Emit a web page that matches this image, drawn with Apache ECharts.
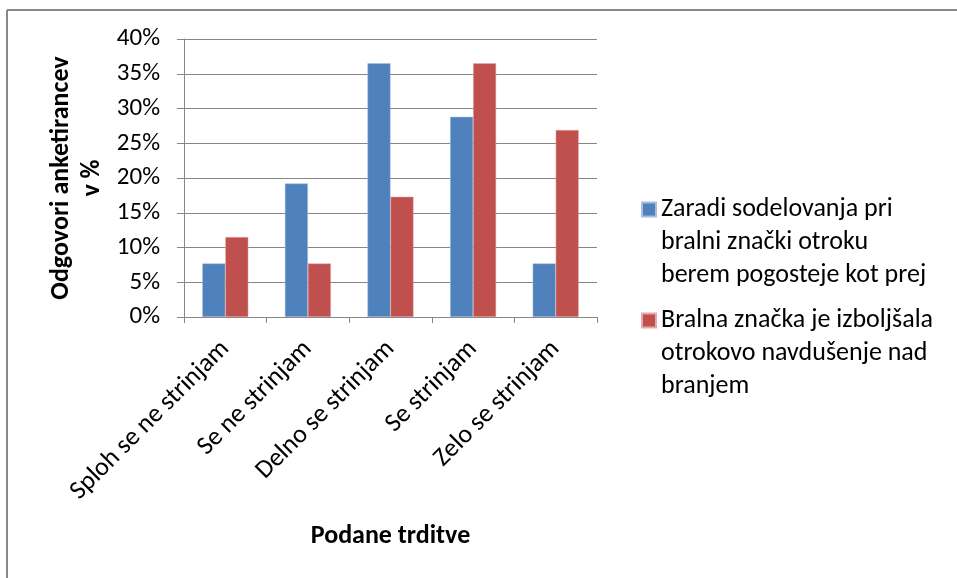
<!DOCTYPE html>
<html>
<head>
<meta charset="utf-8">
<script src="https://cdn.jsdelivr.net/npm/echarts@6/dist/echarts.min.js"></script>
<style>
  html, body { margin: 0; padding: 0; background: #fff; }
  #chart { width: 957px; height: 578px; }
</style>
</head>
<body>
<div id="chart"></div>
<script>
// podatki
const categories = ['Sploh se ne strinjam', 'Se ne strinjam', 'Delno se strinjam', 'Se strinjam', 'Zelo se strinjam']
const seriesNames = [
  'Zaradi sodelovanja pri\nbralni znački otroku\nberem pogosteje kot prej',
  'Bralna značka je izboljšala\notrokovo navdušenje nad\nbranjem',
]
const pogosteje = [7.7, 19.2, 36.5, 28.8, 7.7]
const navdusenje = [11.5, 7.7, 17.3, 36.5, 26.9]
const yMin = 0
const yMax = 40
const yStep = 5

const font = 'Carlito, Calibri, Lato, sans-serif'
const colors = ['#4F81BD', '#C0504D']
const gridColor = '#868686'

const chart = echarts.init(document.getElementById('chart'))

// legenda: vsak element posebej, ikona ob prvi vrstici
// (dve prazni vrstici spredaj, ker je besedilo centrirano na ikono)
function legendFor(name, top) {
  return {
    data: [name],
    left: 641,
    top: top,
    padding: 0,
    orient: 'vertical',
    icon: 'rect',
    itemWidth: 14,
    itemHeight: 14,
    selectedMode: false,
    formatter: (n) => '\n\n' + n,
    textStyle: {
      fontFamily: font,
      fontSize: 26,
      color: '#000',
      lineHeight: 33,
    },
  }
}

const option = {
  animation: false,
  backgroundColor: '#fff',
  color: colors,
  legend: [legendFor(seriesNames[0], 127), legendFor(seriesNames[1], 238)],
  grid: {
    left: 184,
    right: 360,
    top: 39,
    bottom: 261,
    containLabel: false,
  },
  xAxis: {
    type: 'category',
    data: categories,
    name: 'Podane trditve',
    nameLocation: 'middle',
    nameGap: 206,
    nameTextStyle: { fontFamily: font, fontSize: 26, fontWeight: 'bold', color: '#000' },
    axisLine: { lineStyle: { color: gridColor, width: 1 } },
    axisTick: { show: true, length: 6, lineStyle: { color: gridColor } },
    axisLabel: {
      rotate: 45,
      interval: 0,
      margin: 28,
      fontFamily: font,
      fontSize: 26,
      color: '#000',
    },
  },
  yAxis: {
    type: 'value',
    min: yMin,
    max: yMax,
    interval: yStep,
    name: 'Odgovori anketirancev\nv %',
    nameLocation: 'middle',
    nameRotate: 90,
    nameGap: 76,
    nameTextStyle: {
      fontFamily: font,
      fontSize: 26,
      fontWeight: 'bold',
      color: '#000',
      lineHeight: 31,
    },
    axisLine: { show: true, lineStyle: { color: gridColor, width: 1 } },
    axisTick: { show: true, length: 7, lineStyle: { color: gridColor } },
    splitLine: { show: true, lineStyle: { color: gridColor, width: 1 } },
    axisLabel: {
      margin: 24,
      fontFamily: font,
      fontSize: 25,
      color: '#000',
      formatter: (v) => v + '%',
    },
  },
  series: [
    {
      name: seriesNames[0],
      type: 'bar',
      data: pogosteje,
      barWidth: 23,
      barGap: '0%',
      itemStyle: { color: colors[0], borderColor: '#A7BFDE', borderWidth: 0.5 },
    },
    {
      name: seriesNames[1],
      type: 'bar',
      data: navdusenje,
      barWidth: 23,
      barGap: '0%',
      itemStyle: { color: colors[1], borderColor: '#E6A9A8', borderWidth: 0.5 },
    },
  ],
  // okvir (zgoraj in levo)
  graphic: [
    { type: 'line', shape: { x1: 7, y1: 10, x2: 957, y2: 10 }, style: { stroke: '#888', lineWidth: 2 } },
    { type: 'line', shape: { x1: 7, y1: 10, x2: 7, y2: 578 }, style: { stroke: '#888', lineWidth: 2 } },
  ],
}

chart.setOption(option)
</script>
</body>
</html>
